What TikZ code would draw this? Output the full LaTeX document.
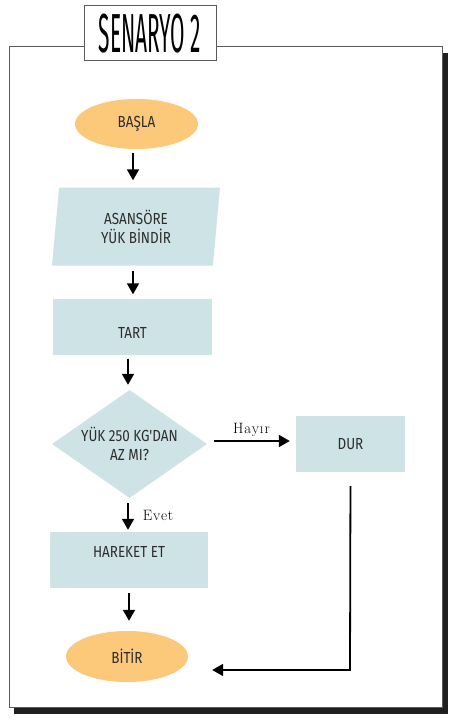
\documentclass[tikz,border=0pt]{standalone}
\usepackage{fontspec}
\usetikzlibrary{shapes.geometric,arrows.meta}
\newfontfamily\boxfont[FakeStretch=0.84]{Fira Sans}
\newfontfamily\titlefont[FakeStretch=0.38]{Fira Sans}
\newfontfamily\labelfont[LetterSpace=6]{Latin Modern Roman}
\definecolor{startfill}{RGB}{252,200,122}
\definecolor{stepfill}{RGB}{206,227,230}
\definecolor{framegray}{RGB}{90,90,90}
\definecolor{textgray}{RGB}{45,45,45}

\begin{document}
\begin{tikzpicture}[x=1pt,y=-1pt,
    startstop/.style={ellipse,fill=startfill,inner sep=0pt,minimum width=123pt,minimum height=50pt,font=\boxfont\fontsize{16}{19}\selectfont,text=textgray},
    iobox/.style={trapezium,trapezium left angle=78,trapezium right angle=102,trapezium stretches body,fill=stepfill,inner sep=0pt,minimum width=168pt,minimum height=78pt,align=center,font=\boxfont\fontsize{16}{19}\selectfont,text=textgray},
    procbox/.style={rectangle,fill=stepfill,inner sep=0pt,minimum width=158pt,minimum height=56pt,font=\boxfont\fontsize{16}{19}\selectfont,text=textgray},
    decision/.style={diamond,aspect=1.435,fill=stepfill,inner sep=0pt,minimum width=155pt,minimum height=108pt,align=center,font=\boxfont\fontsize{16}{19}\selectfont,text=textgray},
    arr/.style={line width=1.8pt,-{Triangle[length=11pt,width=12pt]}},
    branch/.style={font=\labelfont\fontsize{15}{17}\selectfont,inner sep=2pt}]
    \useasboundingbox (0,0) rectangle (455,720);
    % frame with shadow
    \fill[black!88] (14,53) rectangle (448,714);
    \draw[framegray,fill=white,line width=0.9pt] (9,46) rectangle (442,707);
    \node[draw=framegray,fill=white,line width=0.9pt,minimum width=132pt,minimum height=55pt,inner sep=0pt] (title) at (150,32.5) {};
    \node[font=\titlefont\fontsize{55}{60}\selectfont,inner sep=0pt] (titletext) at (150,34) {SENARYO 2};
    % steps
    \node[startstop] (basla) at (136.5,124) {BAŞLA};
    \node[iobox] (load) at (136,226.5) {ASANSÖRE\\YÜK BİNDİR};
    \node[procbox,minimum width=159pt,text height=24pt] (tart) at (132.5,326.5) {TART};
    \node[decision] (check) at (129.5,444) {YÜK 250 KG'DAN\\AZ MI?};
    \node[procbox,minimum width=109pt] (dur) at (350.5,444) {DUR};
    \node[procbox,text depth=16pt] (move) at (129,560) {HAREKET ET};
    \node[startstop,minimum width=122pt,minimum height=51pt] (bitir) at (127,656.5) {BİTİR};
    \coordinate (corner) at (350,670);
    % connectors
    \draw[arr,shorten <=4pt,shorten >=7pt] ([xshift=-3.5pt]basla.south) -- ([xshift=-3.5pt]basla.south |- load.north);
    \draw[arr,shorten <=5pt,shorten >=4pt] ([xshift=-3pt]load.south) -- ([xshift=-3pt]load.south |- tart.north);
    \draw[arr,shorten <=4pt,shorten >=5pt] ([xshift=-4.5pt]tart.south) -- ([xshift=-4.5pt]tart.south |- check.north);
    \draw[arr,shorten <=7pt,shorten >=6pt] ([yshift=3pt]check.east) -- ([yshift=3pt]check.east -| dur.west) node[midway,above=2pt,branch] {Hayır};
    \draw[arr,shorten <=5pt,shorten >=2pt] ([xshift=-1.5pt]check.south) -- ([xshift=-1.5pt]check.south |- move.north) node[midway,right=12pt,branch] {Evet};
    \draw[arr,shorten <=5pt,shorten >=10pt] (move.south) -- (move.south |- bitir.north);
    \draw[arr,shorten <=14pt] (dur.south) -- (corner) -- ([xshift=24pt]bitir.east |- corner);
\end{tikzpicture}
\end{document}
